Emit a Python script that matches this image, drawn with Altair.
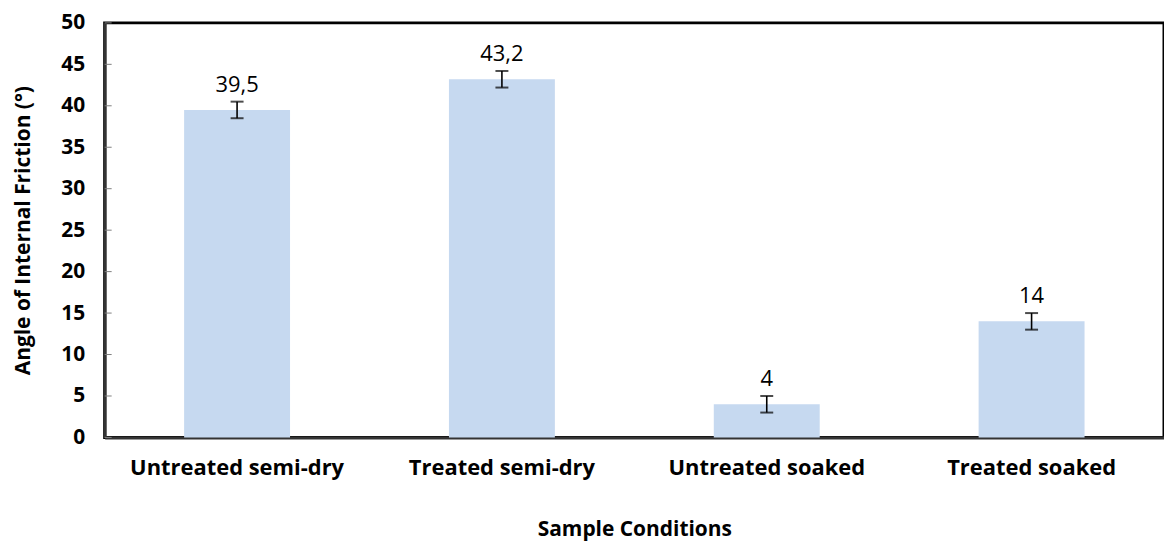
import altair as alt
import pandas as pd

categories = ["Untreated semi-dry", "Treated semi-dry", "Untreated soaked", "Treated soaked"]
values = [39.5, 43.2, 4.0, 14.0]
errors = [1.0, 1.0, 1.0, 1.0]
value_labels = ["39,5", "43,2", "4", "14"]
y_ticks = [0, 5, 10, 15, 20, 25, 30, 35, 40, 45, 50]

df = pd.DataFrame({"cat": categories, "val": values, "err": errors, "lab": value_labels})
df["lo"] = df["val"] - df["err"]
df["hi"] = df["val"] + df["err"]
ticks_df = pd.DataFrame({"t": y_ticks})

FONT = "Open Sans"

x_scale = alt.Scale(paddingInner=0.6, paddingOuter=0.3)
y_scale = alt.Scale(domain=[0, 50], nice=False)

x_enc = alt.X("cat:N", sort=categories, title="Sample Conditions", scale=x_scale,
              axis=alt.Axis(labelAngle=0, labelPadding=20, titlePadding=40, labelLimit=400,
                            labelFontSize=22))
y_enc = alt.Y("val:Q", scale=y_scale, title="Angle of Internal Friction (°)",
              axis=alt.Axis(values=y_ticks, labelPadding=20, titlePadding=27))

base = alt.Chart(df)

bars = base.mark_bar(color="#C6D9F0").encode(x=x_enc, y=y_enc)
rules = base.mark_rule(color="black", strokeWidth=1.6).encode(
    x=alt.X("cat:N", sort=categories), y="lo:Q", y2="hi:Q")
cap_lo = base.mark_tick(color="black", thickness=2, size=13, orient="horizontal").encode(
    x=alt.X("cat:N", sort=categories), y="lo:Q")
cap_hi = base.mark_tick(color="black", thickness=2, size=13, orient="horizontal").encode(
    x=alt.X("cat:N", sort=categories), y="hi:Q")
texts = base.mark_text(font=FONT, fontSize=22, color="black", baseline="alphabetic", dy=-10).encode(
    x=alt.X("cat:N", sort=categories), y="hi:Q", text="lab:N")

yticks = alt.Chart(ticks_df).mark_rule(color="#808080", strokeWidth=1).encode(
    y=alt.Y("t:Q"), x=alt.value(0), x2=alt.value(7))

chart = alt.layer(bars, rules, cap_lo, cap_hi, texts, yticks).properties(
    width=1063, height=416,
    padding={"left": 97, "top": 14, "right": 0, "bottom": 106},
    autosize=alt.AutoSizeParams(type="none"),
).configure_view(
    stroke="black", strokeWidth=3
).configure_axis(
    labelFont=FONT, labelFontSize=21, labelFontWeight="bold", labelColor="black",
    titleFont=FONT, titleFontSize=21, titleFontWeight="bold", titleColor="black",
    ticks=False, grid=False, domainColor="#333333", domainWidth=3,
)

chart.save("out.html", embed_options={"renderer": "svg", "actions": False})
